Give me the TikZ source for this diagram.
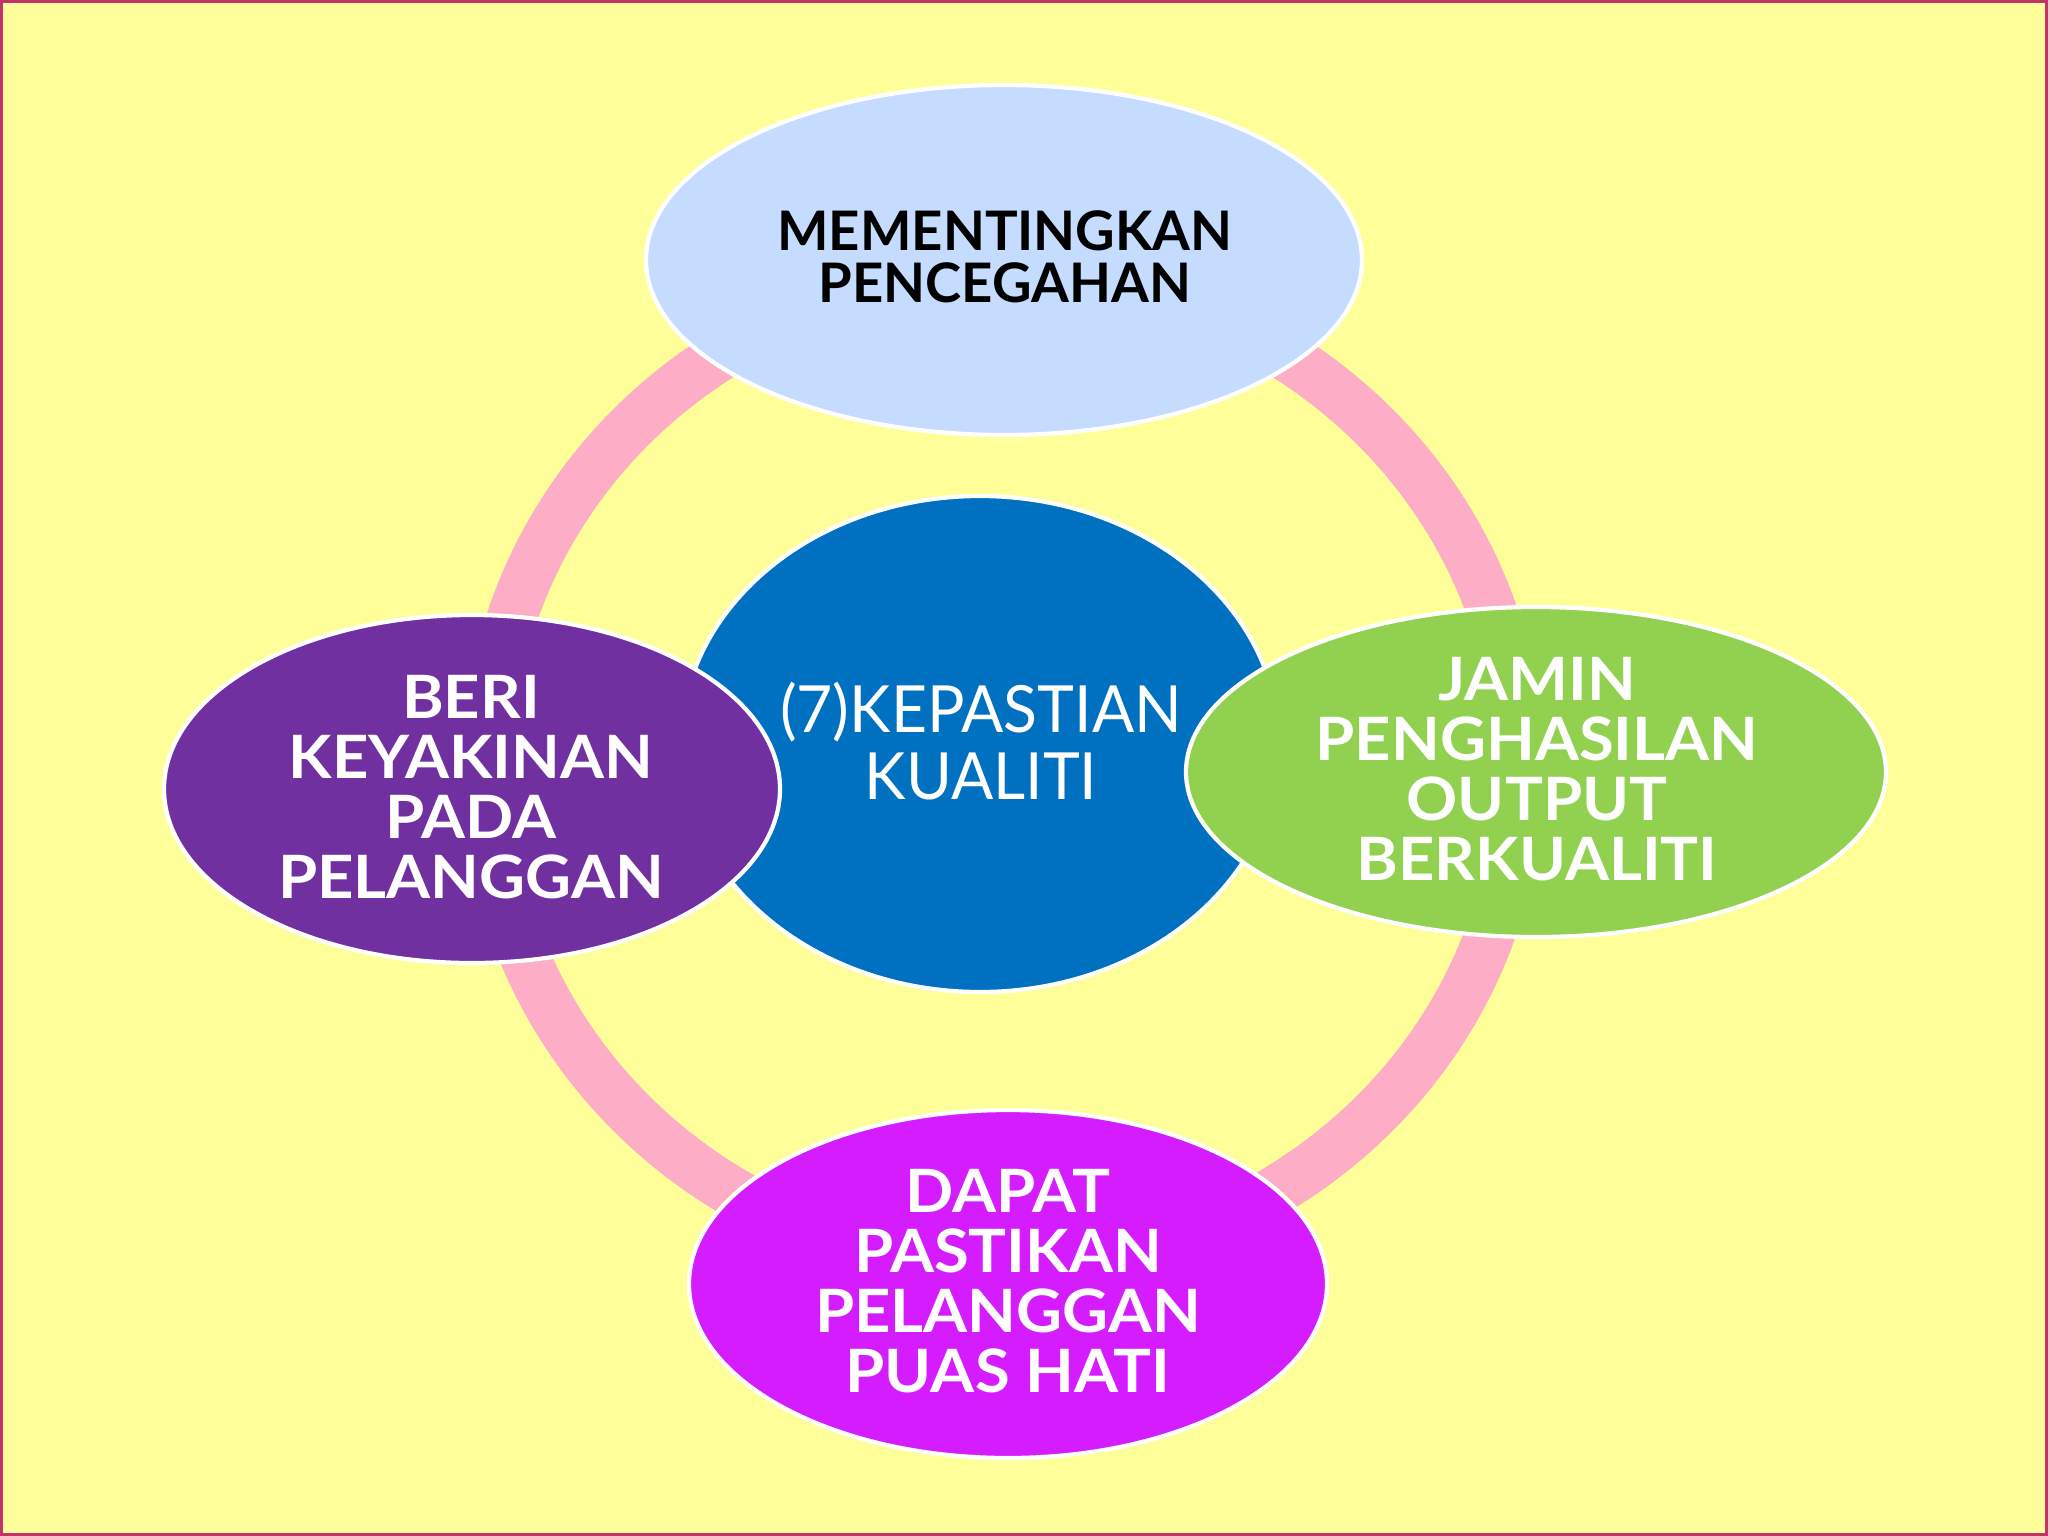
\documentclass[tikz,border=0pt]{standalone}
\usepackage{fontspec}
\setmainfont{Lato}
\newfontfamily\ovalfont[FakeStretch=1.06]{Lato}
\newfontfamily\corefont[FakeStretch=0.96]{Lato}
\usetikzlibrary{positioning}

\definecolor{pagebg}{HTML}{FFFF99}
\definecolor{pageframe}{HTML}{C3336B}
\definecolor{ringpink}{HTML}{FDADC5}
\definecolor{toplight}{HTML}{C6DCFF}
\definecolor{midblue}{HTML}{0070C0}
\definecolor{leftpurple}{HTML}{7030A0}
\definecolor{rightgreen}{HTML}{92D050}
\definecolor{botmagenta}{HTML}{D41CFF}

\begin{document}
\begin{tikzpicture}[x=0.01cm,y=-0.01cm,
  oval/.style={draw=white,line width=1.2pt},
  ovaltext/.style={align=center,text=white,inner sep=0pt,
    font=\ovalfont\bfseries\fontsize{17}{17.1}\selectfont}]
% page
  \useasboundingbox (0,0) rectangle (2048,1536);
  \fill[pagebg] (0,0) rectangle (2048,1536);
  \draw[pageframe,line width=0.9pt] (1.6,1.6) rectangle (2046.4,1534.4);

% ring behind the ovals
  \draw[ringpink,line width=0.5cm] (1003,770) ellipse [x radius=516, y radius=495];

% middle
  \path[oval,fill=midblue] (980,744) ellipse [x radius=299, y radius=248];
  \node[ovaltext,font=\corefont\fontsize{18.5}{19.3}\selectfont] (kualiti) at (981,741)
    {(7)KEPASTIAN\\KUALITI};

% top
  \path[oval,fill=toplight] (1004,260) ellipse [x radius=358, y radius=175];
  \node[ovaltext,text=black,font=\bfseries\fontsize{15.5}{14.8}\selectfont]
    (cegah) at (1005,257) {MEMENTINGKAN\\PENCEGAHAN};

% left
  \path[oval,fill=leftpurple] (472,789) ellipse [x radius=308, y radius=174];
  \node[ovaltext] (yakin) at (471,787) {BERI\\KEYAKINAN\\PADA\\PELANGGAN};

% right
  \path[oval,fill=rightgreen] (1536,772) ellipse [x radius=350, y radius=165];
  \node[ovaltext] (output) at (1537,769) {JAMIN\\PENGHASILAN\\OUTPUT\\BERKUALITI};

% bottom
  \path[oval,fill=botmagenta] (1008,1284) ellipse [x radius=319, y radius=174];
  \node[ovaltext] (puas) at (1008,1281) {DAPAT\\PASTIKAN\\PELANGGAN\\PUAS HATI};
\end{tikzpicture}
\end{document}
